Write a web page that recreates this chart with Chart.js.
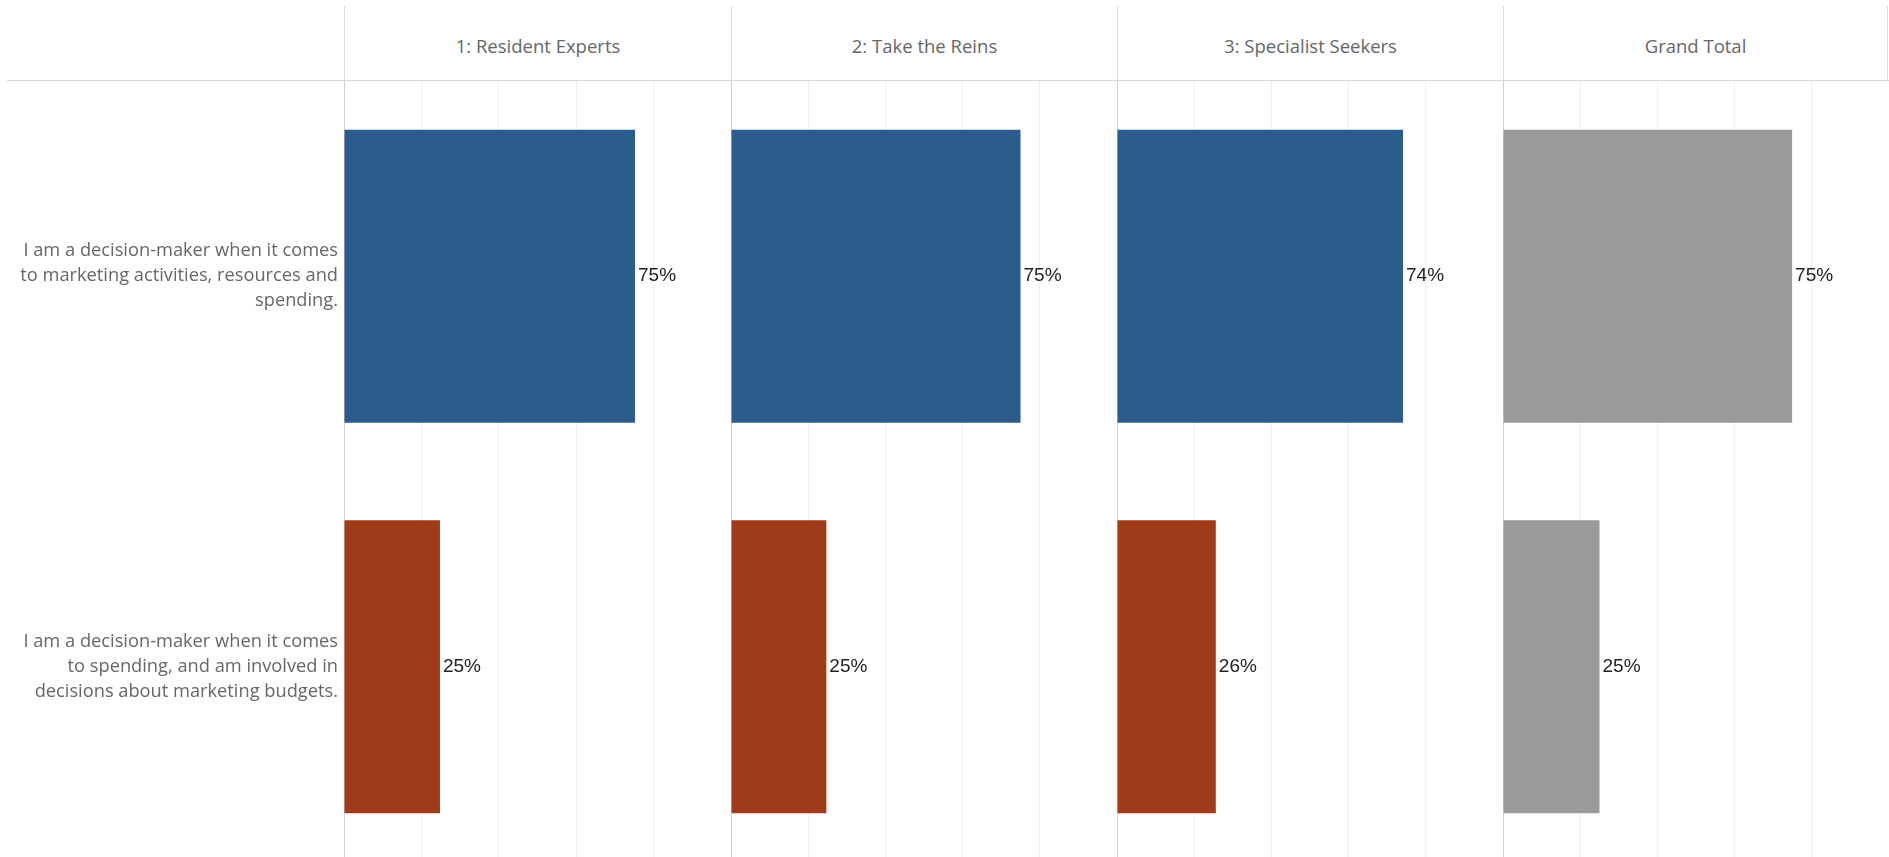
<!DOCTYPE html>
<html>
<head>
<meta charset="utf-8">
<script src="https://cdn.jsdelivr.net/npm/chart.js@4/dist/chart.umd.min.js"></script>
<style>
  html, body { margin: 0; padding: 0; width: 1889px; height: 857px; overflow: hidden; background: #fff; }
  #headLine { position: absolute; left: 7px; top: 80px; width: 1882px; height: 0; border-top: 1px solid #d9d9d9; }
  .seg { position: absolute; top: 6px; height: 74px; box-sizing: border-box; padding-top: 4px;
         border-left: 1px solid #dcdcdc; color: #666; font: 18.5px "Open Sans", sans-serif;
         display: flex; align-items: center; justify-content: center; }
  .seg.last { border-right: 1px solid #dcdcdc; }
  canvas { position: absolute; top: 81px; }
</style>
</head>
<body>
<div id="headLine"></div>
<div id="heads"></div>
<canvas id="panel0" width="731" height="781" style="left:0px"></canvas>
<canvas id="panel1" width="386" height="781" style="left:731px"></canvas>
<canvas id="panel2" width="386" height="781" style="left:1117px"></canvas>
<canvas id="panel3" width="386" height="781" style="left:1503px"></canvas>
<script>
// segment columns and the two statements asked in the survey
const segments = ['1: Resident Experts', '2: Take the Reins', '3: Specialist Seekers', 'Grand Total'];
const statements = [
  ['I am a decision-maker when it comes', 'to marketing activities, resources and', 'spending.'],
  ['I am a decision-maker when it comes', 'to spending, and am involved in', 'decisions about marketing budgets.']
];
// share of respondents per segment
const marketingShare = [0.752, 0.75, 0.741, 0.749];
const budgetShare = [0.248, 0.247, 0.256, 0.25];
const gridTicks = [0, 0.2, 0.4, 0.6, 0.8, 1];

const rowColors = ['#2b5c8b', '#a03b1a'];
const totalColor = '#9a9a9a';
const panelLeft = [344, 731, 1117, 1503];
const panelWidth = [387, 386, 386, 385];

// column headers
const heads = document.getElementById('heads');
segments.forEach((name, i) => {
  const d = document.createElement('div');
  d.className = 'seg' + (i === segments.length - 1 ? ' last' : '');
  d.style.left = panelLeft[i] + 'px';
  d.style.width = panelWidth[i] + 'px';
  d.textContent = name;
  heads.appendChild(d);
});

// percentage printed just right of each bar
const valueLabels = {
  id: 'valueLabels',
  afterDatasetsDraw(chart) {
    const ctx = chart.ctx;
    const values = chart.data.datasets[0].data;
    ctx.save();
    ctx.font = '19px "Liberation Sans", Arial, sans-serif';
    ctx.fillStyle = '#222';
    ctx.textBaseline = 'middle';
    chart.getDatasetMeta(0).data.forEach((bar, i) => {
      ctx.fillText(Math.round(values[i] * 100) + '%', bar.x + 3, bar.y);
    });
    ctx.restore();
  }
};

function makePanel(i) {
  const first = i === 0;
  const isTotal = i === segments.length - 1;
  const ctx = document.getElementById('panel' + i).getContext('2d');
  new Chart(ctx, {
    type: 'bar',
    data: {
      labels: statements,
      datasets: [{
        data: [marketingShare[i], budgetShare[i]],
        backgroundColor: isTotal ? [totalColor, totalColor] : rowColors,
        barPercentage: 0.75,
        categoryPercentage: 1
      }]
    },
    options: {
      indexAxis: 'y',
      responsive: false,
      animation: false,
      events: [],
      layout: { padding: 0 },
      plugins: { legend: { display: false }, tooltip: { enabled: false } },
      scales: {
        x: {
          position: 'top',
          min: 0,
          max: 1,
          afterBuildTicks: s => { s.ticks = gridTicks.map(v => ({ value: v })); },
          afterFit: s => { s.height = 0; s.paddingLeft = 0; s.paddingRight = 0; },
          ticks: { display: false },
          border: { display: false },
          grid: {
            drawTicks: false,
            color: c => (c.tick && c.tick.value === 0) ? '#d2d2d2' : '#efefef'
          }
        },
        y: {
          display: first,
          afterFit: s => {
            s.width = first ? panelLeft[0] : 0;
            s.paddingTop = 0;
            s.paddingBottom = 0;
          },
          grid: { display: false, drawTicks: false },
          border: { display: false },
          ticks: {
            padding: 6,
            color: '#666',
            font: { family: 'Open Sans', size: 18.25, lineHeight: '25px' }
          }
        }
      }
    },
    plugins: [valueLabels]
  });
}

segments.forEach((s, i) => makePanel(i));
</script>
</body>
</html>
